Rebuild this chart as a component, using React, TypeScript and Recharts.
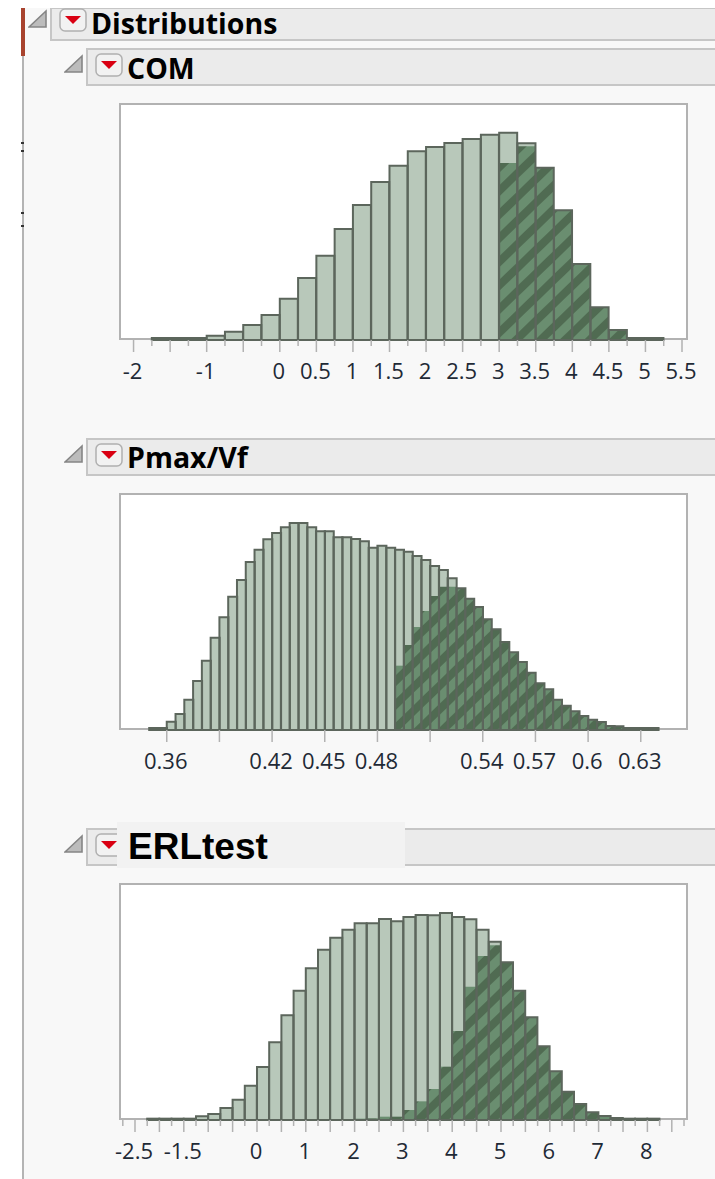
import { Bar, BarChart, XAxis, YAxis } from "recharts";

// COM histogram: bin width 0.25, first bin starts at -1.75
const comValues = [6, 6, 6, 13, 25, 45, 75, 124, 186, 253, 333, 405, 474, 523, 566, 579, 591, 603, 616, 622, 590, 517, 389, 228, 98, 30, 6, 6];
const comSelected = [0, 0, 0, 0, 0, 0, 0, 0, 0, 0, 0, 0, 0, 0, 0, 0, 0, 0, 0, 531, 581, 517, 389, 228, 98, 30, 6, 6];
const comTicks = [-2, -1.75, -1.5, -1.25, -1, -0.75, -0.5, -0.25, 0, 0.25, 0.5, 0.75, 1, 1.25, 1.5, 1.75, 2, 2.25, 2.5, 2.75, 3, 3.25, 3.5, 3.75, 4, 4.25, 4.5, 4.75, 5, 5.25, 5.5];
const comMajor = [-2, -1.5, -1, -0.5, 0, 0.5, 1, 1.5, 2, 2.5, 3, 3.5, 4, 4.5, 5, 5.5];
const comLabels = ["-2", "-1", "0", "0.5", "1", "1.5", "2", "2.5", "3", "3.5", "4", "4.5", "5", "5.5"];

// Pmax/Vf histogram: bin width 0.005, first bin starts at 0.35
const pmaxValues = [6, 6, 25, 48, 91, 147, 208, 277, 338, 400, 450, 504, 541, 572, 591, 608, 621, 621, 608, 596, 596, 578, 578, 573, 566, 547, 553, 547, 541, 535, 522, 510, 492, 480, 455, 425, 394, 369, 332, 302, 264, 233, 204, 172, 140, 122, 91, 73, 56, 42, 31, 24, 12, 11, 6, 6, 6, 6];
const pmaxSelected = [0, 0, 0, 0, 0, 0, 0, 0, 0, 0, 0, 0, 0, 0, 0, 0, 0, 0, 0, 0, 0, 0, 0, 0, 0, 0, 0, 0, 193, 255, 309, 357, 402, 430, 430, 425, 394, 369, 332, 302, 264, 233, 204, 172, 140, 122, 91, 73, 56, 42, 31, 24, 12, 11, 6, 6, 6, 6];
const pmaxTicks = [0.36, 0.39, 0.42, 0.45, 0.48, 0.51, 0.54, 0.57, 0.6, 0.63];
const pmaxLabels = ["0.36", "0.42", "0.45", "0.48", "0.54", "0.57", "0.6", "0.63"];

// ERLtest histogram: bin width 0.25, first bin starts at -2.25
const erlValues = [4, 4, 4, 4, 11, 18, 36, 61, 103, 159, 233, 314, 388, 455, 511, 547, 571, 590, 590, 603, 596, 609, 615, 614, 621, 609, 602, 571, 535, 473, 388, 308, 221, 146, 85, 48, 23, 12, 6, 4, 4, 4];
const erlSelected = [0, 0, 0, 0, 0, 0, 0, 0, 0, 0, 0, 0, 0, 0, 0, 0, 0, 4, 5, 10, 10, 30, 56, 93, 160, 267, 400, 492, 524, 473, 388, 308, 221, 146, 85, 48, 23, 12, 6, 4, 4, 4];
const erlTicks = [-2.75, -2.5, -2.25, -2, -1.75, -1.5, -1.25, -1, -0.75, -0.5, -0.25, 0, 0.25, 0.5, 0.75, 1, 1.25, 1.5, 1.75, 2, 2.25, 2.5, 2.75, 3, 3.25, 3.5, 3.75, 4, 4.25, 4.5, 4.75, 5, 5.25, 5.5, 5.75, 6, 6.25, 6.5, 6.75, 7, 7.25, 7.5, 7.75, 8, 8.25, 8.5, 8.75];
const erlMajor = [-2.5, -2, -1.5, -1, -0.5, 0, 0.5, 1, 1.5, 2, 2.5, 3, 3.5, 4, 4.5, 5, 5.5, 6, 6.5, 7, 7.5, 8, 8.5];
const erlLabels = ["-2.5", "-1.5", "0", "1", "2", "3", "4", "5", "6", "7", "8"];

const PLOT_W = 569;
const PLOT_H = 237;
const PAD = 24; // room either side of the frame for labels that stick out
const LIGHT = "#b8c8ba";
const OUTLINE = "#5c665c";
const FRAME = "#b2b2b2";
const FONT = '"Open Sans", "Noto Sans", sans-serif';

function toRows(values: number[], selected: number[], start: number, width: number) {
  return values.map((total, i) => ({ x: start + (i + 0.5) * width, total, selected: selected[i] }));
}

function AxisTick({ x, y, payload, major, labels }: any) {
  const value = payload.value;
  const isMajor = major.includes(value);
  const label = String(value);
  return (
    <g>
      <line x1={x} x2={x} y1={y} y2={y + (isMajor ? 12 : 6)} stroke={FRAME} strokeWidth={1.5} />
      {labels.includes(label) && (
        <text x={x - 1} y={y + 39} textAnchor="middle" fontSize={22} fontFamily={FONT} fill="#1f2a36">
          {label}
        </text>
      )}
    </g>
  );
}

interface HistogramProps {
  top: number;
  rows: { x: number; total: number; selected: number }[];
  domain: [number, number];
  ticks: number[];
  major: number[];
  labels: string[];
  id: string;
}

function Histogram({ top, rows, domain, ticks, major, labels, id }: HistogramProps) {
  return (
    <div style={{ position: "absolute", left: 119, top }}>
      <div style={{ position: "absolute", left: 0, top: 0, width: PLOT_W, height: PLOT_H, background: "#fff", border: `2px solid ${FRAME}`, boxSizing: "border-box" }} />
      <BarChart
        width={PLOT_W + PAD * 2}
        height={PLOT_H + 60}
        data={rows}
        margin={{ top: 0, right: PAD, bottom: 0, left: PAD }}
        barCategoryGap={0}
        barGap="-100%"
        style={{ position: "absolute", left: -PAD, top: 0 }}
      >
        <defs>
          <pattern id={id} patternUnits="userSpaceOnUse" width={17} height={17} patternTransform="rotate(-44)">
            <rect width={17} height={17} fill="#6a8e70" />
            <rect width={17} height={8} fill="#506b52" />
          </pattern>
        </defs>
        <XAxis
          dataKey="x"
          type="number"
          domain={domain}
          allowDataOverflow
          ticks={ticks}
          interval={0}
          height={60}
          axisLine={false}
          tickLine={false}
          tickSize={0}
          tickMargin={0}
          tick={(props: any) => <AxisTick {...props} major={major} labels={labels} />}
        />
        <YAxis hide domain={[0, 711]} />
        <Bar dataKey="total" fill={LIGHT} isAnimationActive={false} />
        <Bar dataKey="selected" fill={`url(#${id})`} isAnimationActive={false} />
        <Bar dataKey="total" fill="none" stroke={OUTLINE} strokeWidth={2} isAnimationActive={false} />
      </BarChart>
    </div>
  );
}

function Header({ top, left, height, buttonTop, titleTop, title }: { top: number; left: number; height: number; buttonTop: number; titleTop?: number; title: string }) {
  return (
    <>
      <svg width={20} height={20} style={{ position: "absolute", left: left - 22, top: buttonTop + 1 }}>
        <path d="M1 18 L18 2 L18 18 Z" fill="#bcbcbc" stroke="#858585" strokeWidth={1.6} />
      </svg>
      <div style={{ position: "absolute", left, top, right: 0, height, background: "#ebebeb", border: "2px solid #c6c6c6", borderRight: "none", boxSizing: "border-box" }} />
      <svg width={28} height={24} style={{ position: "absolute", left: left + 9, top: buttonTop }}>
        <rect x={1} y={1} width={26} height={22} rx={5} fill="#f2f2f2" stroke="#b0b0b0" strokeWidth={1.5} />
        <path d="M6 8 L22 8 L14 16 Z" fill="#d90012" />
      </svg>
      {title && (
        <div style={{ position: "absolute", left: left + 41, top: titleTop, fontFamily: FONT, fontWeight: 700, fontSize: 28.5, lineHeight: "32px", color: "#000" }}>
          {title}
        </div>
      )}
    </>
  );
}

const blackTicks = [142, 150, 212, 225];

export default function App() {
  return (
    <div style={{ position: "absolute", left: 0, top: 0, width: 715, height: 1179, overflow: "hidden", background: "#fff" }}>
      <div style={{ position: "absolute", left: 24, top: 8, right: 0, bottom: 0, background: "#f8f8f8" }} />
      <div style={{ position: "absolute", left: 22, top: 8, width: 2, bottom: 0, background: "#b4b4b4" }} />
      <div style={{ position: "absolute", left: 21, top: 8, width: 4, height: 48, background: "#a8432e" }} />
      {blackTicks.map((t) => (
        <div key={t} style={{ position: "absolute", left: 21, top: t, width: 3, height: 1.5, background: "#333" }} />
      ))}

      <Header top={7} left={50} height={34} buttonTop={8} titleTop={7} title="Distributions" />
      <Header top={48} left={86} height={38} buttonTop={53} titleTop={52} title="COM" />
      <Header top={438} left={86} height={38} buttonTop={443} titleTop={441} title="Pmax/Vf" />
      <Header top={828} left={86} height={38} buttonTop={833} title="" />
      <div style={{ position: "absolute", left: 117, top: 822, width: 288, height: 46, background: "#f2f2f2", fontFamily: '"Liberation Sans", Arial, sans-serif', fontWeight: 700, fontSize: 37, lineHeight: "50px", paddingLeft: 11, boxSizing: "border-box", color: "#000" }}>
        ERLtest
      </div>
      <div style={{ position: "absolute", left: 0, top: 0, width: 715, height: 8, background: "#fff" }} />

      <Histogram top={103} rows={toRows(comValues, comSelected, -1.75, 0.25)} domain={[-2.199, 5.582]} ticks={comTicks} major={comMajor} labels={comLabels} id="hatch-com" />
      <Histogram top={493} rows={toRows(pmaxValues, pmaxSelected, 0.35, 0.005)} domain={[0.3328, 0.6569]} ticks={pmaxTicks} major={pmaxTicks} labels={pmaxLabels} id="hatch-pmax" />
      <Histogram top={883} rows={toRows(erlValues, erlSelected, -2.25, 0.25)} domain={[-2.828, 8.832]} ticks={erlTicks} major={erlMajor} labels={erlLabels} id="hatch-erl" />
    </div>
  );
}
